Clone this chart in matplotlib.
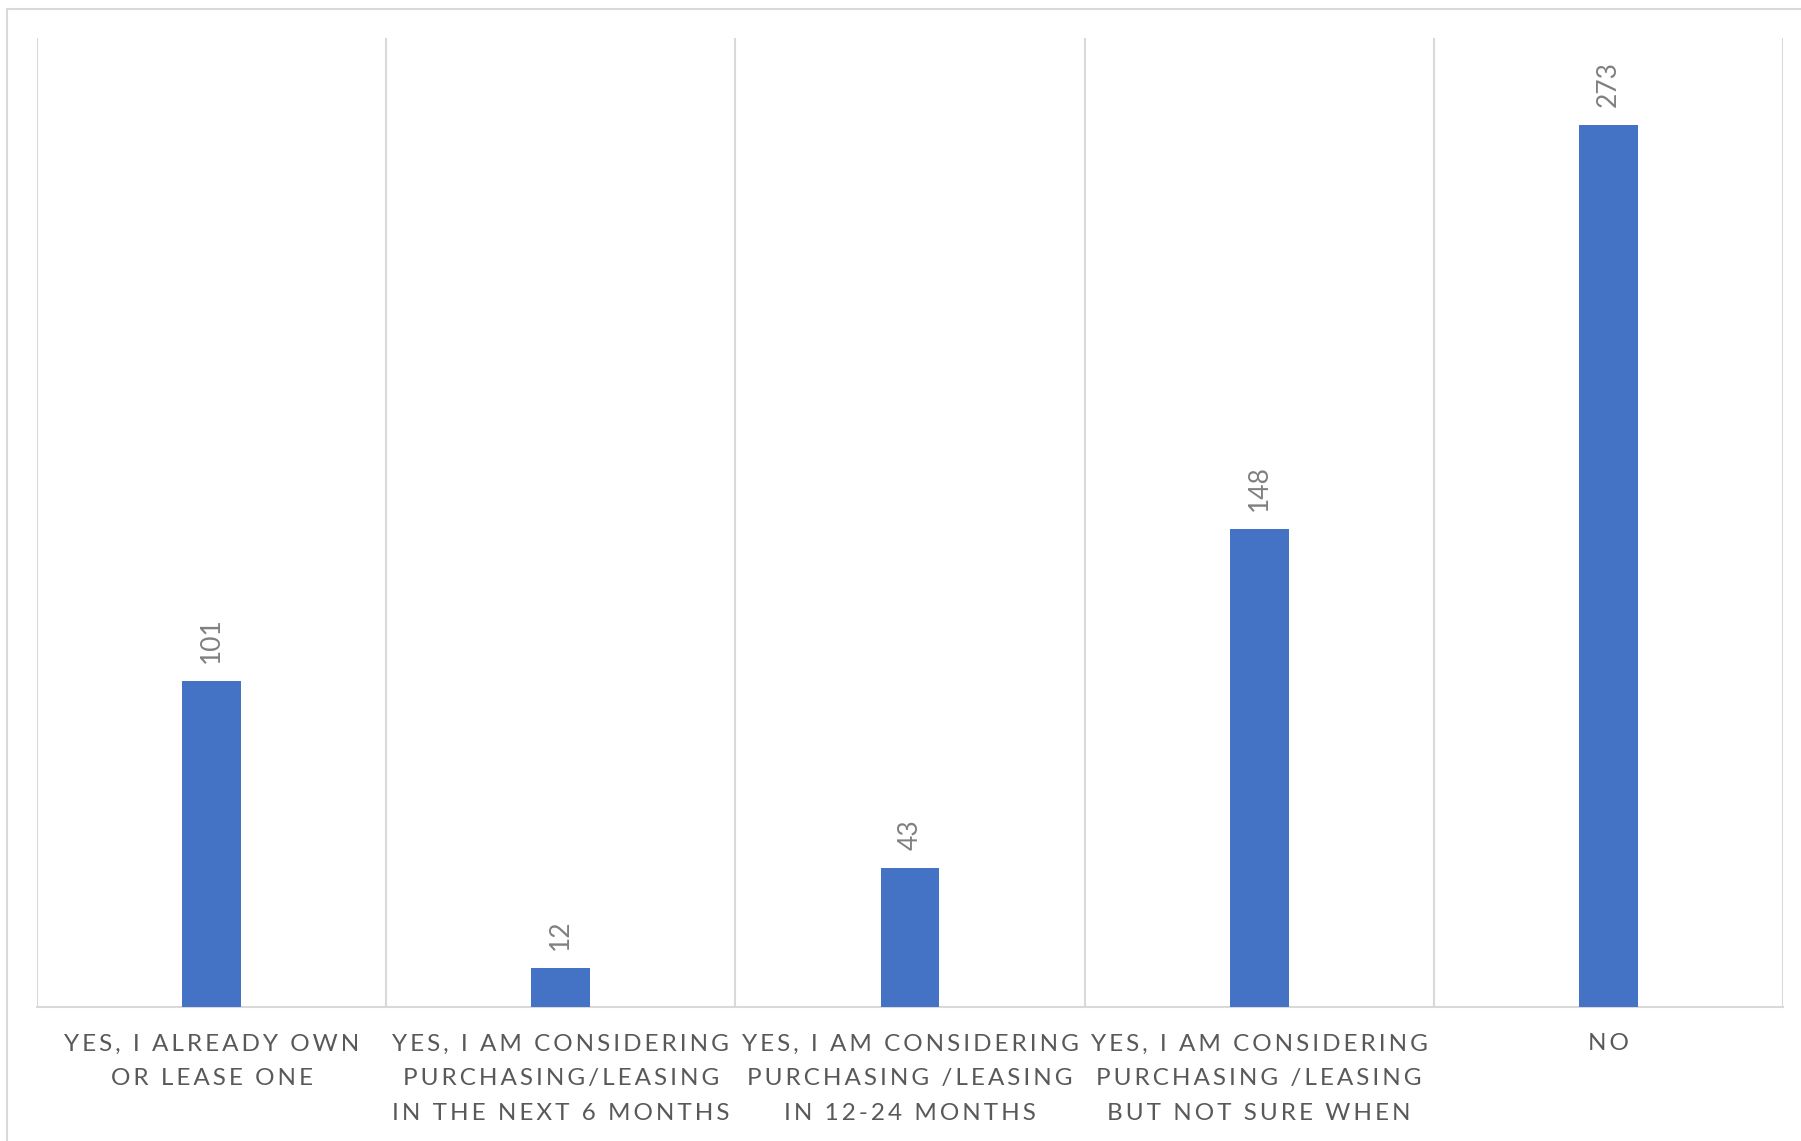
import matplotlib
matplotlib.use('Agg')
import matplotlib.pyplot as plt
from matplotlib.patches import Rectangle

categories = [
    'YES, I ALREADY OWN\nOR LEASE ONE',
    'YES, I AM CONSIDERING\nPURCHASING/LEASING\nIN THE NEXT 6 MONTHS',
    'YES, I AM CONSIDERING\nPURCHASING /LEASING\nIN 12-24 MONTHS',
    'YES, I AM CONSIDERING\nPURCHASING /LEASING\nBUT NOT SURE WHEN',
    'NO',
]
counts = [101, 12, 43, 148, 273]

BAR = '#4472C4'
GRID = '#d9d9d9'
TEXT = '#595959'
FONT = ['Lato', 'DejaVu Sans']


def spaced(s, gap='\u200a\u200a'):
    # Excel-style letter spacing: pad every character with hair spaces
    return '\n'.join(gap.join(line) for line in s.split('\n'))


fig = plt.figure(figsize=(18.01, 11.41), dpi=100)
ax = fig.add_axes([0.0205, 0.1174, 0.9695, 0.8493])

x = list(range(len(categories)))
bars = ax.bar(x, counts, width=0.168, color=BAR, zorder=3)

ax.set_xlim(-0.5, len(categories) - 0.5)
ax.set_ylim(0, 300)
ax.set_yticks([])

# vertical gridlines between categories
for b in [i - 0.5 for i in range(len(categories) + 1)]:
    ax.axvline(b, color=GRID, lw=1.5, zorder=1)

for side in ['top', 'right', 'left']:
    ax.spines[side].set_visible(False)
ax.spines['bottom'].set_color(GRID)
ax.spines['bottom'].set_linewidth(1.5)

ax.set_xticks(x)
ax.set_xticklabels([spaced(c) for c in categories], fontsize=17.5,
                   color=TEXT, family=FONT, linespacing=1.8, va='top')
ax.tick_params(axis='x', length=0, pad=19)

# value labels, rotated above each bar
for rect, v in zip(bars, counts):
    ax.annotate(str(v), (rect.get_x() + rect.get_width() / 2, v),
                xytext=(0, 13), textcoords='offset points',
                rotation=90, ha='center', va='bottom',
                fontsize=19, color='#808080', family=FONT)

# light chart-area frame
fig.patches.append(Rectangle((7 / 1801, -0.1), 1.2, (1141 - 9) / 1141 + 0.1,
                             transform=fig.transFigure, fill=False,
                             edgecolor=GRID, lw=1.5, zorder=0))

fig.savefig('out.png', dpi=100, facecolor='white')
